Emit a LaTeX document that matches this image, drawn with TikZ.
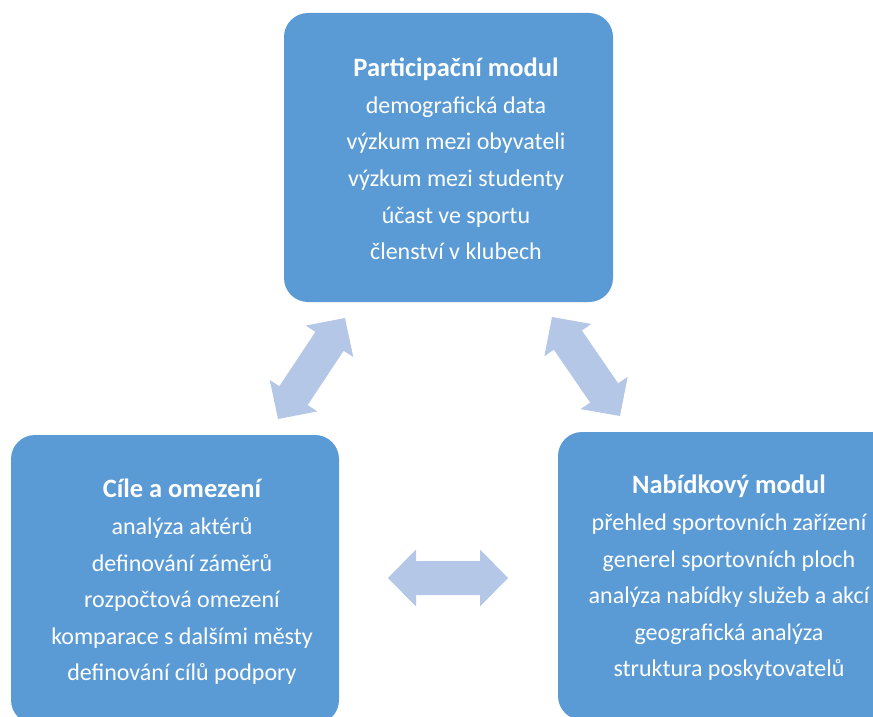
\documentclass[tikz,border=0pt]{standalone}
\usepackage{fontspec}
\setmainfont{Carlito}
\usetikzlibrary{calc}
\definecolor{boxblue}{RGB}{91,155,213}
\definecolor{arrowblue}{RGB}{180,199,231}
\newcommand\arrHL{28pt}
\newcommand\arrHW{28.5pt}
\newcommand\arrSW{17pt}
\newcommand\dblblock[2]{%
  \fill[arrowfill] (#1)
    -- ($(#1)!\arrHL!(#2)!\arrHW!90:(#2)$)
    -- ($(#1)!\arrHL!(#2)!\arrSW!90:(#2)$)
    -- ($(#2)!\arrHL!(#1)!\arrSW!-90:(#1)$)
    -- ($(#2)!\arrHL!(#1)!\arrHW!-90:(#1)$)
    -- (#2)
    -- ($(#2)!\arrHL!(#1)!\arrHW!90:(#1)$)
    -- ($(#2)!\arrHL!(#1)!\arrSW!90:(#1)$)
    -- ($(#1)!\arrHL!(#2)!\arrSW!-90:(#2)$)
    -- ($(#1)!\arrHL!(#2)!\arrHW!-90:(#2)$)
    -- cycle;}
\newcommand\modtitle[1]{{\fontsize{26.5}{36.6}\selectfont\bfseries #1}}
\tikzset{
  modbox/.style={fill=boxblue, rounded corners=24pt},
  modtext/.style={text=white, align=center, inner sep=0pt,
    font=\fontsize{24}{36.6}\selectfont},
  arrowfill/.style={fill=arrowblue}
}
\begin{document}
\begin{tikzpicture}[x=1pt,y=-1pt]
\useasboundingbox (0,0) rectangle (873,717);
\clip (0,0) rectangle (873,717);
% boxes
\fill[modbox] (284,13) rectangle (613,302);
\fill[modbox] (11,435) rectangle (339,724);
\fill[modbox] (558,432) rectangle (903,720);
% texts
\node[modtext] (part) at (456,159) {\modtitle{Participační modul}\\demografická data\\výzkum mezi obyvateli\\výzkum mezi studenty\\účast ve sportu\\členství v klubech};
\node[modtext] (cile) at (182,582) {\modtitle{Cíle a omezení}\\analýza aktérů\\definování záměrů\\rozpočtová omezení\\komparace s dalšími městy\\definování cílů podpory};
\node[modtext] (nab) at (729,578) {\modtitle{Nabídkový modul}\\přehled sportovních zařízení\\generel sportovních ploch\\analýza nabídky služeb a akcí\\geografická analýza\\struktura poskytovatelů};
% arrows
\coordinate (la1) at (278,419);
\coordinate (la2) at (345,318);
\coordinate (ra1) at (552,317);
\coordinate (ra2) at (620,416);
\coordinate (ha1) at (388,578);
\coordinate (ha2) at (508,578);
\dblblock{la1}{la2}
\dblblock{ra1}{ra2}
\dblblock{ha1}{ha2}
\end{tikzpicture}
\end{document}
